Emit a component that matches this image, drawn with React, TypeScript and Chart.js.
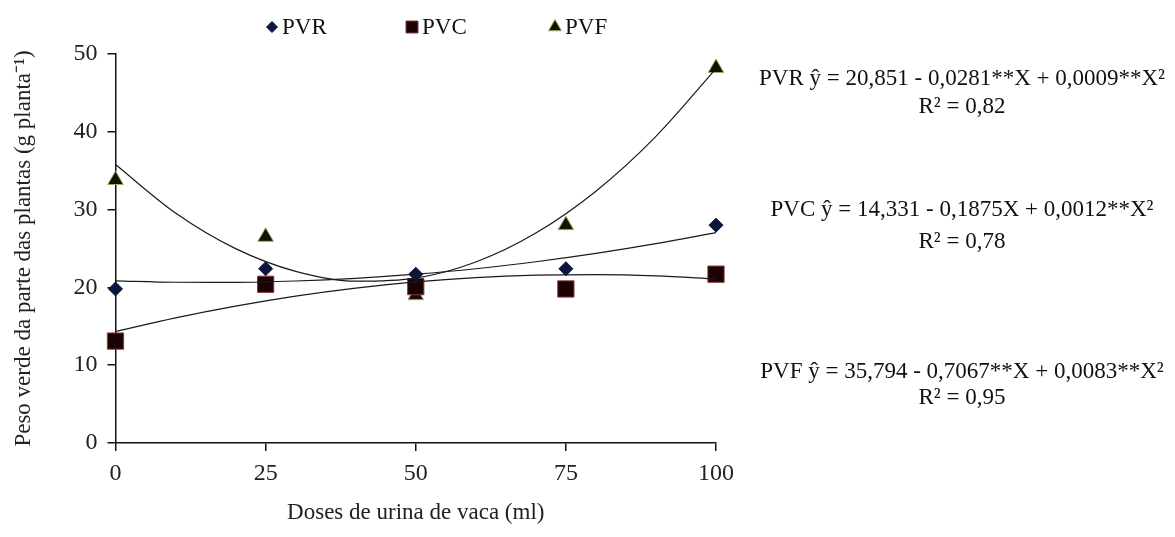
import React, { useEffect, useRef } from 'react';
import { Chart, registerables } from 'chart.js';

Chart.register(...registerables);

// ---- data ----
const doses = [0, 25, 50, 75, 100];
const pvr = [19.8, 22.4, 21.7, 22.4, 28.0];
const pvc = [13.1, 20.4, 20.1, 19.8, 21.7];
const pvf = [33.8, 26.5, 19.0, 28.0, 48.2];

// trend curves
const curveX = [0, 10, 20, 30, 40, 50, 60, 70, 80, 90, 100];
const pvrCurve = [20.85, 20.66, 20.65, 20.82, 21.17, 21.7, 22.4, 23.3, 24.37, 25.62, 27.04];
const pvcCurve = [14.33, 16.09, 17.6, 18.88, 19.91, 20.71, 21.26, 21.57, 21.65, 21.49, 21.08];
const pvfCurve = [35.79, 29.56, 24.98, 22.06, 20.8, 21.2, 23.27, 26.99, 32.37, 39.42, 48.12];

const seriesNames = ['PVR', 'PVC', 'PVF'];
const equationLines = [
  ['PVR ŷ = 20,851 - 0,0281**X + 0,0009**X²', 'R² = 0,82'],
  ['PVC ŷ = 14,331 - 0,1875X + 0,0012**X²', 'R² = 0,78'],
  ['PVF ŷ = 35,794 - 0,7067**X + 0,0083**X²', 'R² = 0,95'],
];
const xTitle = 'Doses de urina de vaca (ml)';
const yTitle = 'Peso verde da parte das plantas (g planta⁻¹)';

const SERIF = '"Liberation Serif", "Times New Roman", serif';

const markerStyles = [
  { fill: '#0b1640', stroke: '#0b1640' },
  { fill: '#1c0303', stroke: '#8a3a3a' },
  { fill: '#121200', stroke: '#a8a868' },
];

function drawMarker(ctx: CanvasRenderingContext2D, kind: number, x: number, y: number, r: number) {
  const st = markerStyles[kind];
  ctx.beginPath();
  if (kind === 0) {
    ctx.moveTo(x - r, y);
    ctx.lineTo(x, y - r);
    ctx.lineTo(x + r, y);
    ctx.lineTo(x, y + r);
    ctx.closePath();
  } else if (kind === 1) {
    ctx.rect(x - r, y - r, 2 * r, 2 * r);
  } else {
    const h = r * 1.5;
    ctx.moveTo(x, y - r);
    ctx.lineTo(x + r * 0.866, y + h - r);
    ctx.lineTo(x - r * 0.866, y + h - r);
    ctx.closePath();
  }
  ctx.fillStyle = st.fill;
  ctx.fill();
  ctx.lineWidth = 1;
  ctx.strokeStyle = st.stroke;
  ctx.stroke();
}

const overlayPlugin = {
  id: 'overlay',
  afterDraw(chart: any) {
    const ctx: CanvasRenderingContext2D = chart.ctx;
    ctx.save();
    // legend
    const legendMarkerX = [264, 404, 547];
    const legendMarkerR = [5.5, 6, 7.5];
    ctx.font = `23px ${SERIF}`;
    ctx.textBaseline = 'middle';
    ctx.textAlign = 'left';
    seriesNames.forEach((name, i) => {
      drawMarker(ctx, i, legendMarkerX[i], 19, legendMarkerR[i]);
      ctx.fillStyle = '#111';
      ctx.fillText(name, legendMarkerX[i] + 10, 20);
    });
    // equations
    const eqY = [[71, 99], [202, 234], [364, 390]];
    ctx.font = `23px ${SERIF}`;
    ctx.textAlign = 'center';
    ctx.fillStyle = '#111';
    equationLines.forEach((lines, i) => {
      lines.forEach((t, j) => ctx.fillText(t, 954, eqY[i][j]));
    });
    ctx.restore();
  },
};

export default function App() {
  const ref = useRef<HTMLCanvasElement>(null);
  useEffect(() => {
    if (!ref.current) return;
    const pts = (xs: number[], ys: number[]) => xs.map((x, i) => ({ x, y: ys[i] }));
    const markerDs = (i: number, ys: number[], style: string, radius: number) => ({
      label: seriesNames[i],
      data: pts(doses, ys),
      showLine: false,
      pointStyle: style,
      pointRadius: radius,
      pointBackgroundColor: markerStyles[i].fill,
      pointBorderColor: markerStyles[i].stroke,
      pointBorderWidth: 1,
      clip: false as any,
      order: 2,
    });
    const curveDs = (i: number, ys: number[]) => ({
      label: seriesNames[i] + ' trend',
      data: pts(curveX, ys),
      showLine: true,
      borderColor: '#1a1a1a',
      borderWidth: 1.2,
      pointRadius: 0,
      tension: 0.4,
      cubicInterpolationMode: 'monotone' as const,
      clip: false as any,
      order: 1,
    });
    const chart = new Chart(ref.current, {
      type: 'scatter',
      data: {
        datasets: [
          markerDs(0, pvr, 'rectRot', 7),
          markerDs(1, pvc, 'rect', 11.5),
          markerDs(2, pvf, 'triangle', 9),
          curveDs(0, pvrCurve),
          curveDs(1, pvcCurve),
          curveDs(2, pvfCurve),
        ],
      },
      options: {
        animation: false,
        responsive: false,
        maintainAspectRatio: false,
        layout: { padding: { top: 46, right: 451, bottom: 0, left: 0 } },
        plugins: { legend: { display: false }, tooltip: { enabled: false } },
        scales: {
          x: {
            type: 'linear',
            min: 0,
            max: 100,
            ticks: { stepSize: 25, padding: 8, color: '#222', font: { family: SERIF, size: 24 } },
            grid: { drawOnChartArea: false, tickLength: 8, color: '#111', lineWidth: 1.5 },
            border: { color: '#111', width: 1.5 },
            title: { display: true, text: xTitle, color: '#222', font: { family: SERIF, size: 23 }, padding: { top: 0, bottom: 2 } },
            afterFit: (s: any) => { s.height = 86; },
          },
          y: {
            type: 'linear',
            min: 0,
            max: 50,
            ticks: { stepSize: 10, padding: 10, color: '#222', font: { family: SERIF, size: 24 } },
            grid: { drawOnChartArea: false, tickLength: 8, color: '#111', lineWidth: 1.5 },
            border: { color: '#111', width: 1.5 },
            title: { display: true, text: yTitle, color: '#222', font: { family: SERIF, size: 23 }, padding: { top: 2, bottom: 0 } },
            afterFit: (s: any) => { s.width = 107.5; },
          },
        },
      },
      plugins: [overlayPlugin],
    });
    return () => chart.destroy();
  }, []);
  return (
    <div style={{ width: 1159, height: 521 }}>
      <canvas ref={ref} width={1159} height={521} style={{ display: 'block' }} />
    </div>
  );
}
